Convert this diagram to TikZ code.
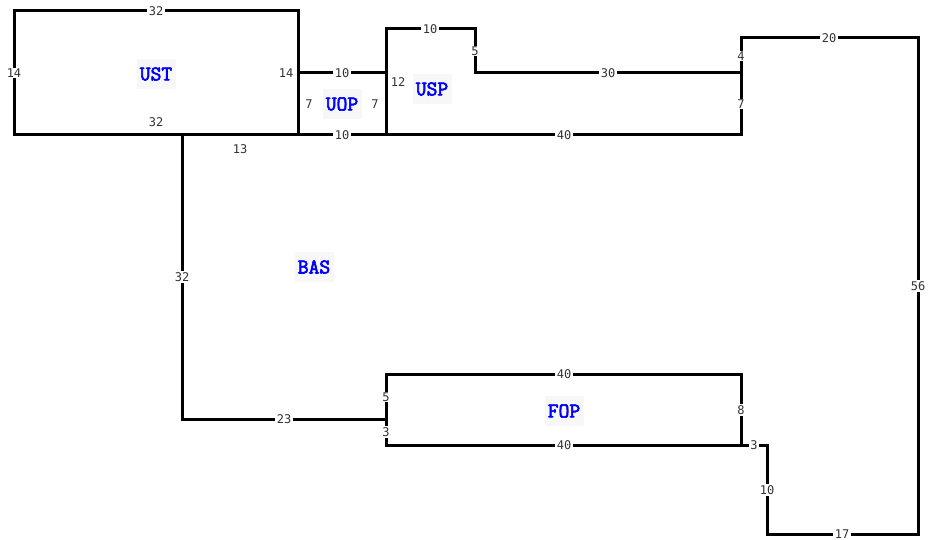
\documentclass[tikz,border=0pt]{standalone}
\usepackage{fontspec}
\newfontfamily\numfont{DejaVu Sans Mono}
\newfontfamily\roomfont{Latin Modern Mono}[FakeBold=3]
\begin{document}
\begin{tikzpicture}[x=1pt,y=-1pt,
  wall/.style={line width=3pt, line join=miter, line cap=rect},
  len/.style={fill=white, inner xsep=1.5pt, inner ysep=1pt, text=black!80,
    font=\numfont\fontsize{12}{12}\selectfont},
  lenplain/.style={inner sep=1pt, text=black!80,
    font=\numfont\fontsize{12}{12}\selectfont},
  room/.style={fill=black!3, text=blue, inner sep=0pt, minimum width=39pt,
    minimum height=30pt, font=\roomfont\fontsize{21}{21}\selectfont}]
\useasboundingbox (0,0) rectangle (931,540);
% corners
\coordinate (A) at (14,11);   \coordinate (B) at (298,11);
\coordinate (C) at (298,135); \coordinate (D) at (14,135);
\coordinate (E) at (298,73);  \coordinate (F) at (386,73);
\coordinate (G) at (386,29);  \coordinate (H) at (475,29);
\coordinate (I) at (475,73);  \coordinate (J) at (741,73);
\coordinate (K) at (741,135); \coordinate (L) at (386,135);
\coordinate (M) at (741,38);  \coordinate (N) at (918,38);
\coordinate (O) at (918,534); \coordinate (P) at (767,534);
\coordinate (Q) at (767,445); \coordinate (R) at (741,445);
\coordinate (S) at (386,374); \coordinate (T) at (741,374);
\coordinate (U) at (386,445);
\coordinate (V) at (182,135); \coordinate (W) at (182,419);
\coordinate (X) at (386,419);
% walls
\draw[wall] (A) -- (B) -- (C) -- (D) -- cycle;
\draw[wall] (E) -- (F);
\draw[wall] (C) -- (L);
\draw[wall] (L) -- (G) -- (H) -- (I) -- (J) -- (K) -- (L);
\draw[wall] (J) -- (M) -- (N) -- (O) -- (P) -- (Q) -- (R);
\draw[wall] (S) -- (T) -- (R) -- (U) -- cycle;
\draw[wall] (V) -- (W) -- (X);
% length labels
\node[len] (l1) at (156,11) {32};
\node[len] (l2) at (14,73) {14};
\node[lenplain] (l3) at (286,73) {14};
\node[lenplain] (l4) at (156,122) {32};
\node[lenplain] (l5) at (240,149) {13};
\node[len] (l6) at (342,73) {10};
\node[len] (l7) at (342,135) {10};
\node[lenplain] (l8) at (309,104) {7};
\node[lenplain] (l9) at (375,104) {7};
\node[lenplain] (l10) at (398,82) {12};
\node[len] (l11) at (430,29) {10};
\node[len] (l12) at (475,51) {5};
\node[len] (l13) at (608,73) {30};
\node[len] (l14) at (564,135) {40};
\node[len] (l15) at (741,104) {7};
\node[len] (l16) at (741,56) {4};
\node[len] (l17) at (829,38) {20};
\node[len] (l18) at (918,286) {56};
\node[len] (l19) at (842,534) {17};
\node[len] (l20) at (767,490) {10};
\node[len] (l21) at (754,445) {3};
\node[len] (l22) at (564,374) {40};
\node[len] (l23) at (564,445) {40};
\node[len] (l24) at (386,397) {5};
\node[len] (l25) at (386,432) {3};
\node[len] (l26) at (741,410) {8};
\node[len] (l27) at (182,277) {32};
\node[len] (l28) at (284,419) {23};
% rooms
\node[room] (ust) at (156,74) {UST};
\node[room] (uop) at (342,104) {UOP};
\node[room] (usp) at (432,89) {USP};
\node[room] (bas) at (314,267) {BAS};
\node[room] (fop) at (564,411) {FOP};
\end{tikzpicture}
\end{document}
